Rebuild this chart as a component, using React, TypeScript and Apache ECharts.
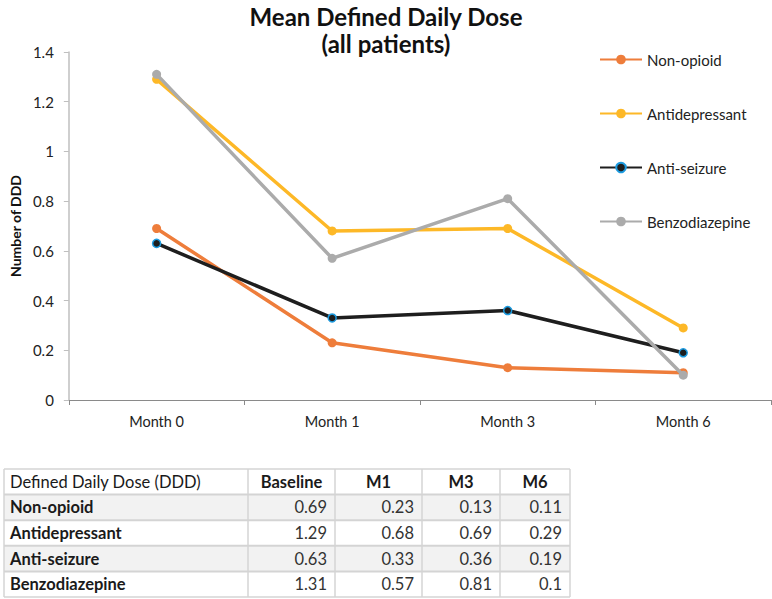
import React, { useEffect, useRef } from "react";
import * as echarts from "echarts";

const categories = ["Month 0", "Month 1", "Month 3", "Month 6"];
const seriesNames = ["Non-opioid", "Antidepressant", "Anti-seizure", "Benzodiazepine"];
const nonOpioid = [0.69, 0.23, 0.13, 0.11];
const antidepressant = [1.29, 0.68, 0.69, 0.29];
const antiSeizure = [0.63, 0.33, 0.36, 0.19];
const benzodiazepine = [1.31, 0.57, 0.81, 0.1];
const tableHeader = ["Defined Daily Dose (DDD)", "Baseline", "M1", "M3", "M6"];
const tableValues = [
  ["0.69", "0.23", "0.13", "0.11"],
  ["1.29", "0.68", "0.69", "0.29"],
  ["0.63", "0.33", "0.36", "0.19"],
  ["1.31", "0.57", "0.81", "0.1"],
];

const FONT = "Lato";
const colors = ["#EE7D3B", "#FDB827", "#1E1E1E", "#ABABAB"];

function buildTable() {
  const els: any[] = [];
  const top = 469;
  const rowH = 25.6;
  const left = 4;
  const colEdges = [4, 248, 335, 422, 500, 570];
  const nRows = 5;
  for (let r = 0; r < nRows; r++) {
    const fill = r % 2 === 1 ? "#F2F2F2" : "#FFFFFF";
    els.push({
      type: "rect",
      shape: { x: left, y: top + r * rowH, width: colEdges[5] - left, height: rowH },
      style: { fill },
      silent: true,
    });
  }
  for (let r = 0; r <= nRows; r++) {
    els.push({
      type: "line",
      shape: { x1: left, y1: top + r * rowH, x2: colEdges[5], y2: top + r * rowH },
      style: { stroke: "#D4D4D4", lineWidth: r === 0 || r === nRows ? 1.5 : 2 },
      silent: true,
    });
  }
  for (let c = 0; c < colEdges.length; c++) {
    els.push({
      type: "line",
      shape: { x1: colEdges[c], y1: top, x2: colEdges[c], y2: top + nRows * rowH },
      style: { stroke: "#D4D4D4", lineWidth: 1.5 },
      silent: true,
    });
  }
  tableHeader.forEach((h, i) => {
    const isFirst = i === 0;
    els.push({
      type: "text",
      x: isFirst ? 10 : (colEdges[i] + colEdges[i + 1]) / 2,
      y: top + rowH / 2,
      style: {
        text: h,
        fill: "#1a1a1a",
        font: `${isFirst ? "normal" : "bold"} 16.5px ${FONT}`,
        align: isFirst ? "left" : "center",
        verticalAlign: "middle",
      },
      silent: true,
    });
  });
  seriesNames.forEach((name, r) => {
    const y = top + (r + 1) * rowH + rowH / 2;
    els.push({
      type: "text",
      x: 10,
      y,
      style: { text: name, fill: "#1a1a1a", font: `bold 16.5px ${FONT}`, align: "left", verticalAlign: "middle" },
      silent: true,
    });
    tableValues[r].forEach((v, c) => {
      els.push({
        type: "text",
        x: colEdges[c + 2] - 8,
        y,
        style: { text: v, fill: "#333", font: `normal 16.5px ${FONT}`, align: "right", verticalAlign: "middle" },
        silent: true,
      });
    });
  });
  return els;
}

export default function App() {
  const ref = useRef<HTMLDivElement>(null);
  useEffect(() => {
    if (!ref.current) return;
    const chart = echarts.init(ref.current, null, { renderer: "svg" });
    const datasets = [nonOpioid, antidepressant, antiSeizure, benzodiazepine];
    const series = datasets.map((d, i) => ({
      name: seriesNames[i],
      type: "line",
      data: d,
      symbol: "circle",
      symbolSize: i === 2 ? 8 : 9,
      lineStyle: { color: colors[i], width: 3.5 },
      itemStyle: {
        color: colors[i],
        borderColor: i === 2 ? "#1C9BE0" : colors[i],
        borderWidth: i === 2 ? 1.5 : 0,
      },
      z: i === 3 ? 3 : 2,
    }));
    chart.setOption({
      animation: false,
      textStyle: { fontFamily: FONT },
      title: {
        text: "Mean Defined Daily Dose\n(all patients)",
        left: "center",
        top: 3,
        padding: 0,
        textStyle: { fontFamily: FONT, fontSize: 24, fontWeight: "bold", color: "#111", lineHeight: 27 },
      },
      legend: {
        orient: "vertical",
        left: 594,
        top: 47,
        itemWidth: 42,
        itemHeight: 12,
        itemGap: 39,
        textStyle: { fontFamily: FONT, fontSize: 15, color: "#222" },
        data: seriesNames,
      },
      grid: { left: 66, right: 1, top: 52, bottom: 199, containLabel: false },
      xAxis: {
        type: "category",
        data: categories,
        boundaryGap: true,
        axisLine: { lineStyle: { color: "#8A8A8A", width: 1 } },
        axisTick: { show: true, length: 5, lineStyle: { color: "#8A8A8A" } },
        axisLabel: { color: "#222", fontSize: 14.5, fontFamily: FONT, margin: 14 },
      },
      yAxis: {
        type: "value",
        min: 0,
        max: 1.4,
        interval: 0.2,
        name: "Number of DDD",
        nameLocation: "middle",
        nameGap: 46,
        nameTextStyle: { fontFamily: FONT, fontSize: 14, fontWeight: "bold", color: "#111" },
        axisLine: { show: true, lineStyle: { color: "#BFBFBF", width: 1.5 } },
        axisTick: { show: true, length: 5, lineStyle: { color: "#BFBFBF" } },
        splitLine: { show: false },
        axisLabel: { color: "#222", fontSize: 15, fontFamily: FONT, margin: 15 },
      },
      series,
      graphic: buildTable(),
    });
    return () => chart.dispose();
  }, []);
  return <div ref={ref} style={{ width: 772, height: 599, position: "absolute", left: 0, top: 0, background: "#fff" }} />;
}
